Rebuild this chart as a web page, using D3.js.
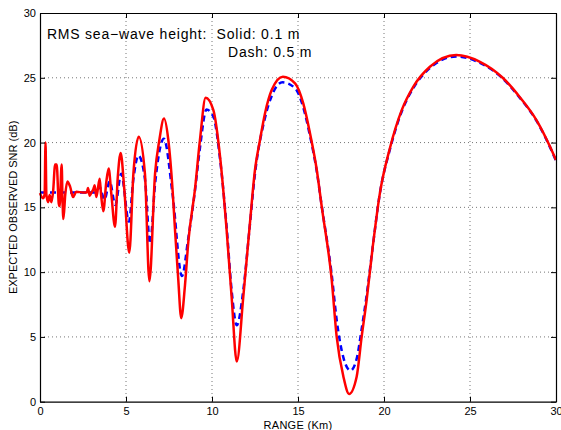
<!DOCTYPE html>
<html>
<head>
<meta charset="utf-8">
<script src="https://cdn.jsdelivr.net/npm/d3@7"></script>
<style>
  body { margin: 0; background: #fff; }
  svg { display: block; font-family: "Liberation Sans", Arial, Helvetica, sans-serif; }
  .tick text { font-size: 11px; fill: #000; }
  .grid line { stroke: #777; stroke-width: 1; stroke-dasharray: 1,3; }
  .note { font-size: 14px; letter-spacing: 0.8px; white-space: pre; }
</style>
</head>
<body>
<svg id="chart" width="561" height="430"></svg>
<script>
// ----------

const X_TICKS = [0, 5, 10, 15, 20, 25, 30];
const Y_TICKS = [0, 5, 10, 15, 20, 25, 30];

const X_LABEL = "RANGE (Km)";
const Y_LABEL = "EXPECTED OBSERVED SNR (dB)";
const NOTE_LINE_1 = "RMS sea\u2212wave height:  Solid: 0.1 m";
const NOTE_LINE_2 = "Dash: 0.5 m";

// solid line: 0.1 m sea-wave height
const RANGE_SOLID = [
  0.00, 0.17, 0.27, 0.32, 0.37, 0.47, 0.56, 0.66, 0.76, 0.88,
  0.97, 1.09, 1.14, 1.26, 1.31, 1.36, 1.47, 1.59, 1.75, 1.92,
  2.11, 2.50, 2.72, 2.79, 2.89, 2.98, 3.10, 3.18, 3.27, 3.35,
  3.47, 3.55, 3.68, 3.85, 3.99, 4.15, 4.36, 4.52, 4.69, 4.90,
  5.19, 5.43, 5.74, 6.10, 6.36, 6.69, 6.94, 7.21, 7.46, 7.71,
  7.85, 8.04, 8.21, 8.43, 8.62, 9.01, 9.30, 9.63, 10.08, 10.47,
  10.85, 11.14, 11.44, 11.82, 12.17, 12.50, 12.79, 13.08, 13.47, 14.12,
  14.83, 15.31, 15.70, 16.09, 16.38, 16.96, 17.25, 17.64, 17.97, 18.41,
  18.70, 18.99, 19.35, 19.75, 20.35, 21.03, 21.70, 22.67, 24.20, 25.58,
  26.90, 27.90, 28.88, 29.65, 30.00
];
const SNR_SOLID = [
  16.1, 15.7, 16.0, 20.0, 16.0, 15.4, 15.95, 15.4, 16.2, 18.3,
  18.3, 15.3, 15.1, 18.3, 15.5, 14.1, 16.0, 17.0, 16.6, 15.8,
  16.2, 16.15, 16.15, 16.5, 15.9, 16.1, 16.4, 16.7, 15.8, 16.3,
  17.2, 16.0, 14.7, 16.9, 18.0, 16.0, 13.5, 17.3, 19.2, 16.4,
  11.5, 17.6, 20.45, 17.6, 9.3, 17.6, 20.2, 21.85, 20.2, 16.3,
  13.25, 9.4, 6.45, 9.0, 12.3, 16.4, 20.2, 23.45, 22.5, 18.9,
  13.25, 8.1, 3.1, 8.1, 13.25, 17.9, 20.2, 22.25, 24.05, 25.08,
  24.57, 23.0, 20.7, 17.9, 15.05, 9.4, 5.0, 1.93, 0.6, 1.93,
  5.0, 7.85, 12.0, 16.0, 19.6, 22.5, 24.3, 25.85, 26.75, 26.23,
  25.0, 23.5, 21.7, 19.7, 18.65
];

// dashed line: 0.5 m sea-wave height
const RANGE_DASH = [
  0.00, 1.50, 3.30, 3.45, 3.75, 4.05, 4.38, 4.72, 5.17, 5.43,
  5.72, 6.10, 6.40, 6.69, 7.20, 7.71, 8.25, 8.62, 9.01, 9.30,
  9.68, 10.08, 10.47, 10.85, 11.14, 11.44, 11.82, 12.17, 12.50, 13.08,
  13.47, 14.10, 14.83, 15.31, 15.70, 16.09, 16.38, 16.96, 17.25, 17.64,
  18.05, 18.41, 18.70, 18.99, 19.35, 19.75, 20.35, 21.03, 21.70, 22.67,
  24.20, 25.58, 26.90, 27.90, 28.88, 29.65, 30.00
];
const SNR_DASH = [
  16.15, 16.15, 16.15, 16.6, 15.6, 17.0, 15.2, 17.6, 13.9, 17.2,
  19.0, 17.2, 12.2, 16.8, 20.3, 16.0, 9.7, 12.6, 16.3, 19.6,
  22.55, 22.0, 18.7, 13.5, 8.6, 5.9, 8.6, 13.2, 17.6, 21.9,
  23.6, 24.65, 24.2, 22.7, 20.5, 17.8, 15.1, 9.8, 6.3, 3.4,
  2.4, 3.3, 5.6, 8.2, 12.0, 16.0, 19.5, 22.4, 24.2, 25.75,
  26.65, 26.15, 24.95, 23.45, 21.65, 19.65, 18.6
];

const PLOT_LEFT = 40;
const PLOT_RIGHT = 556;
const PLOT_TOP = 13;
const PLOT_BOTTOM = 401.7;
const TICK_LEN = 5;

// ----------

function toPoints(xs, ys) {
  return xs.map(function (x, i) {
    return [x, ys[i]];
  });
}

function drawChart() {
  const svg = d3.select("#chart");

  const x = d3.scaleLinear().domain([0, 30]).range([PLOT_LEFT, PLOT_RIGHT]);
  const y = d3.scaleLinear().domain([0, 30]).range([PLOT_BOTTOM, PLOT_TOP]);

  // dotted grid, inner ticks only
  const grid = svg.append("g").attr("class", "grid");
  grid
    .selectAll("line.gx")
    .data(X_TICKS.slice(1, -1))
    .enter()
    .append("line")
    .attr("x1", (d) => x(d))
    .attr("x2", (d) => x(d))
    .attr("y1", PLOT_TOP)
    .attr("y2", PLOT_BOTTOM);
  grid
    .selectAll("line.gy")
    .data(Y_TICKS.slice(1, -1))
    .enter()
    .append("line")
    .attr("x1", PLOT_LEFT)
    .attr("x2", PLOT_RIGHT)
    .attr("y1", (d) => y(d))
    .attr("y2", (d) => y(d));

  const line = d3
    .line()
    .x((d) => x(d[0]))
    .y((d) => y(d[1]))
    .curve(d3.curveMonotoneX);

  svg
    .append("path")
    .datum(toPoints(RANGE_DASH, SNR_DASH))
    .attr("d", line)
    .attr("fill", "none")
    .attr("stroke", "#0000ff")
    .attr("stroke-width", 2.5)
    .attr("stroke-dasharray", "6,4");

  svg
    .append("path")
    .datum(toPoints(RANGE_SOLID, SNR_SOLID))
    .attr("d", line)
    .attr("fill", "none")
    .attr("stroke", "#ff0000")
    .attr("stroke-width", 2.5)
    .attr("stroke-linejoin", "round");

  // axes, ticks pointing inward like matlab
  svg
    .append("g")
    .attr("transform", "translate(0," + PLOT_BOTTOM + ")")
    .call(d3.axisBottom(x).tickValues(X_TICKS).tickSizeInner(-TICK_LEN).tickSizeOuter(0).tickPadding(6));
  svg
    .append("g")
    .attr("transform", "translate(" + PLOT_LEFT + ",0)")
    .call(d3.axisLeft(y).tickValues(Y_TICKS).tickSizeInner(-TICK_LEN).tickSizeOuter(0).tickPadding(4));
  svg
    .append("g")
    .attr("transform", "translate(0," + PLOT_TOP + ")")
    .call(d3.axisTop(x).tickValues(X_TICKS).tickSizeInner(-TICK_LEN).tickSizeOuter(0).tickFormat(""));
  svg
    .append("g")
    .attr("transform", "translate(" + PLOT_RIGHT + ",0)")
    .call(d3.axisRight(y).tickValues(Y_TICKS).tickSizeInner(-TICK_LEN).tickSizeOuter(0).tickFormat(""));

  svg.selectAll(".domain").attr("stroke", "#000").attr("stroke-width", 1.2);
  svg.selectAll(".tick line").attr("stroke", "#000");

  svg
    .append("text")
    .attr("x", (PLOT_LEFT + PLOT_RIGHT) / 2)
    .attr("y", 429)
    .attr("text-anchor", "middle")
    .style("font-size", "11px")
    .style("letter-spacing", "0.3px")
    .text(X_LABEL);

  svg
    .append("text")
    .attr("transform", "translate(17," + (PLOT_TOP + PLOT_BOTTOM) / 2 + ") rotate(-90)")
    .attr("text-anchor", "middle")
    .style("font-size", "11px")
    .text(Y_LABEL);

  svg.append("text").attr("class", "note").attr("x", x(0.4)).attr("y", y(27.96)).text(NOTE_LINE_1);
  svg.append("text").attr("class", "note").attr("x", x(10.93)).attr("y", y(26.6)).text(NOTE_LINE_2);
}

drawChart();
</script>
</body>
</html>
